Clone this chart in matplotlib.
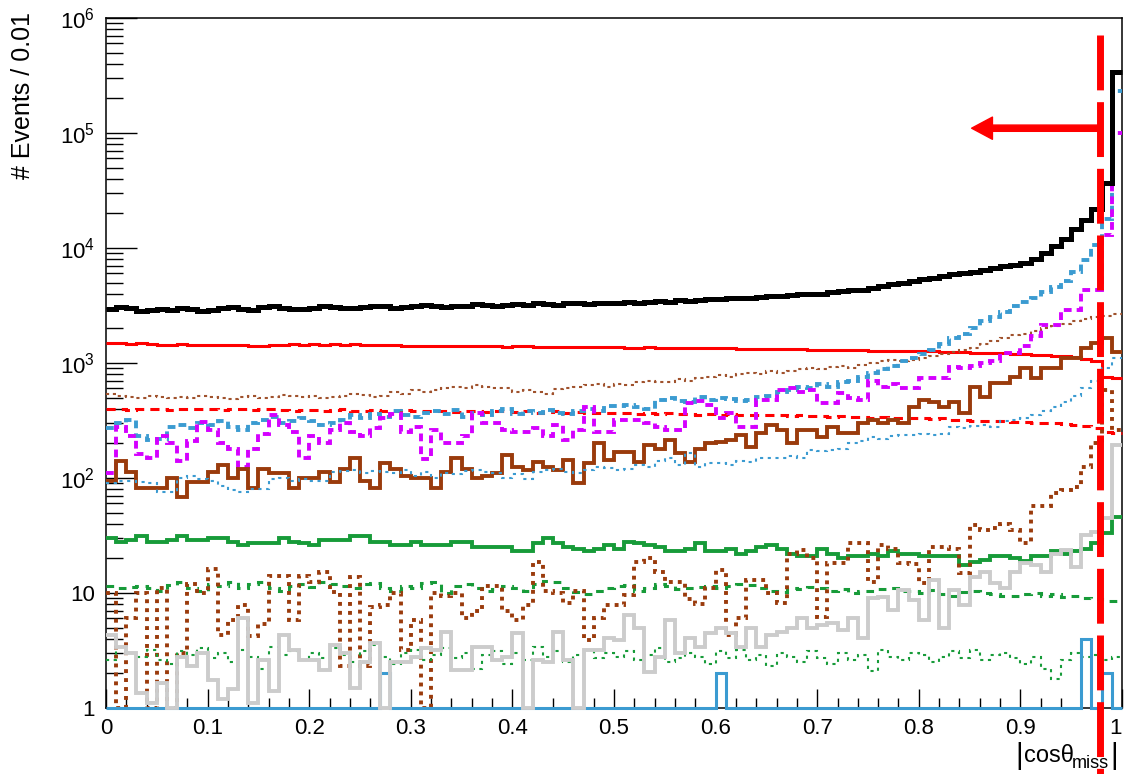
import numpy as np
import matplotlib.pyplot as plt
import matplotlib.transforms as mtransforms
from matplotlib.ticker import LogLocator, NullFormatter, MultipleLocator

plt.rcParams['font.family'] = ['Liberation Sans', 'DejaVu Sans']
plt.rcParams['mathtext.fontset'] = 'custom'
plt.rcParams['mathtext.rm'] = 'Liberation Sans'
plt.rcParams['mathtext.it'] = 'Liberation Sans:italic'

# 100 bins of width 0.01 in |cos theta_miss|
edges = np.linspace(0, 1, 101)
cut = 0.978

total = [2950, 3050, 3000, 2850, 2900, 2950, 2900, 3000, 2950, 2850,
         2900, 3000, 3050, 2950, 2900, 3050, 3100, 3000, 2950, 2950,
         3000, 3100, 3050, 3000, 3000, 3050, 3150, 3100, 3000, 3050,
         3150, 3200, 3100, 3050, 3100, 3150, 3250, 3200, 3150, 3200,
         3250, 3200, 3300, 3250, 3200, 3300, 3350, 3250, 3300, 3350,
         3350, 3400, 3350, 3400, 3450, 3400, 3500, 3450, 3550, 3600,
         3600, 3650, 3700, 3650, 3750, 3800, 3800, 3900, 3950, 3950,
         4000, 4100, 4200, 4300, 4350, 4500, 4700, 4900, 5000, 5200,
         5400, 5500, 5700, 5900, 6000, 6200, 6400, 6700, 6900, 7100,
         7400, 8000, 9000, 10500, 12000, 14500, 17500, 22000, 37000, 340000]

red_solid = [1480, 1480, 1470, 1480, 1470, 1420, 1420, 1450, 1420, 1420,
             1420, 1420, 1420, 1420, 1410, 1410, 1420, 1420, 1450, 1420,
             1450, 1420, 1450, 1420, 1450, 1420, 1420, 1420, 1420, 1410,
             1410, 1400, 1400, 1400, 1400, 1400, 1400, 1400, 1400, 1390,
             1400, 1400, 1390, 1390, 1380, 1380, 1370, 1370, 1370, 1370,
             1370, 1360, 1360, 1380, 1360, 1340, 1350, 1350, 1350, 1350,
             1340, 1340, 1320, 1320, 1330, 1330, 1320, 1310, 1310, 1300,
             1300, 1300, 1290, 1300, 1290, 1280, 1280, 1280, 1270, 1270,
             1260, 1260, 1250, 1250, 1240, 1230, 1230, 1220, 1210, 1200,
             1190, 1180, 1170, 1160, 1150, 1120, 1080, 1040, 760, 740]

brown_thin = [540, 520, 510, 500, 520, 510, 500, 510, 500, 520,
              510, 500, 490, 510, 520, 500, 510, 530, 520, 510,
              520, 500, 510, 520, 540, 530, 510, 520, 560, 540,
              580, 560, 580, 600, 620, 600, 640, 620, 600, 610,
              560, 580, 560, 540, 590, 600, 620, 640, 650, 620,
              660, 640, 680, 700, 680, 690, 720, 700, 740, 760,
              780, 760, 800, 820, 800, 850, 820, 860, 880, 900,
              880, 920, 940, 900, 960, 1000, 1050, 1060, 1050, 1060,
              1100, 1150, 1200, 1250, 1300, 1350, 1450, 1550, 1650, 1750,
              1800, 1900, 2000, 2100, 2200, 2300, 2400, 2500, 2550, 2650]

red_dashed = [400, 395, 390, 395, 400, 395, 390, 400, 395, 400,
              395, 390, 400, 395, 390, 395, 400, 390, 385, 390,
              390, 385, 390, 395, 385, 380, 390, 385, 380, 390,
              385, 380, 385, 380, 375, 380, 385, 375, 380, 380,
              375, 380, 370, 375, 380, 370, 375, 370, 365, 370,
              370, 365, 360, 365, 360, 365, 360, 360, 355, 360,
              355, 360, 355, 350, 355, 350, 350, 345, 350, 345,
              345, 340, 345, 340, 340, 335, 340, 335, 330, 335,
              330, 325, 330, 320, 320, 315, 315, 310, 310, 305,
              305, 300, 300, 300, 295, 290, 285, 270, 250, 245]

blue_dashed = [270, 300, 320, 230, 215, 220, 280, 290, 270, 300,
               290, 310, 280, 260, 300, 320, 340, 300, 310, 330,
               310, 290, 300, 320, 350, 330, 360, 340, 380, 350,
               340, 370, 380, 360, 390, 340, 370, 350, 380, 400,
               360, 380, 370, 390, 370, 360, 380, 400, 380, 420,
               420, 430, 410, 400, 480, 500, 470, 460, 510, 480,
               500, 490, 470, 480, 510, 520, 560, 580, 620, 600,
               650, 620, 680, 700, 760, 820, 880, 950, 1050, 1100,
               1200, 1300, 1450, 1650, 1800, 2000, 2300, 2500, 2800, 3100,
               3400, 3700, 4100, 4600, 5200, 6200, 7800, 10700, 18000, 230000]

magenta = [110, 280, 230, 160, 150, 230, 200, 140, 210, 305,
           260, 200, 180, 125, 180, 240, 350, 290, 250, 150,
           230, 200, 260, 300, 250, 230, 270, 330, 360, 250,
           280, 145, 260, 200, 200, 230, 370, 300, 300, 260,
           250, 250, 270, 230, 290, 215, 260, 410, 250, 250,
           320, 320, 320, 300, 280, 260, 260, 450, 470, 430,
           330, 370, 280, 280, 480, 480, 580, 600, 560, 580,
           450, 450, 550, 500, 480, 700, 620, 650, 600, 600,
           740, 740, 740, 920, 900, 950, 1000, 1050, 1230, 1230,
           1400, 1700, 2150, 2150, 2900, 2900, 4300, 4300, 13000, 100000]

brown_solid = [95, 140, 112, 82, 82, 82, 100, 68, 92, 92,
               112, 130, 100, 120, 82, 120, 110, 110, 82, 100,
               100, 112, 92, 120, 150, 95, 82, 135, 120, 105,
               100, 100, 82, 112, 150, 120, 100, 105, 110, 158,
               125, 118, 138, 125, 118, 143, 90, 135, 200, 143,
               168, 168, 138, 195, 180, 215, 165, 138, 180, 200,
               205, 215, 235, 185, 245, 290, 260, 200, 260, 260,
               225, 280, 245, 245, 300, 320, 300, 320, 300, 415,
               480, 460, 415, 460, 370, 620, 510, 670, 670, 760,
               900, 740, 900, 900, 1100, 1100, 1350, 1500, 1650, 1250]

blue_dotted = [90, 95, 95, 92, 90, 75, 75, 100, 105, 98,
               95, 85, 78, 75, 80, 80, 98, 100, 95, 98,
               95, 95, 112, 115, 118, 110, 115, 112, 110, 118,
               105, 112, 100, 110, 108, 115, 118, 112, 110, 100,
               108, 98, 112, 118, 120, 112, 110, 118, 125, 122,
               118, 120, 130, 125, 140, 150, 130, 165, 125, 135,
               135, 130, 140, 138, 150, 150, 148, 155, 150, 175,
               170, 175, 180, 200, 210, 225, 220, 230, 235, 235,
               240, 235, 240, 280, 270, 285, 290, 280, 310, 320,
               330, 350, 380, 410, 460, 520, 600, 700, 900, 1100]

green_solid = [30, 28, 29, 31, 28, 28, 29, 31, 29, 29,
               30, 30, 28, 26, 27, 27, 27, 30, 28, 27,
               26, 29, 29, 29, 31, 31, 28, 28, 26, 26,
               28, 26, 26, 26, 28, 28, 25, 25, 25, 25,
               23, 23, 27, 30, 27, 25, 24, 23, 24, 26,
               24, 28, 27, 26, 25, 23, 23, 24, 27, 23,
               23, 24, 22, 23, 25, 26, 24, 22, 21, 21,
               24, 22, 20, 21, 21, 22, 21, 23, 22, 22,
               21, 21, 21, 21, 17.5, 18.5, 19.5, 21, 21, 20,
               19, 21, 21, 23, 22, 23, 24, 27, 33, 46]

green_dashed = [11.5, 11, 11.2, 11.5, 11, 10.5, 11.8, 12.5, 11, 10.5,
                12, 11.5, 12.5, 11, 12, 12.5, 11, 10.5, 11.5, 12,
                11.2, 12.5, 12, 11.5, 11, 12, 12.2, 11, 10.5, 11.5,
                11, 12.2, 12.5, 10, 11.5, 12, 11, 10.5, 10.8, 11.5,
                11, 10.5, 12, 12.8, 12.5, 11, 10.2, 9.8, 10.5, 11,
                11.5, 11.8, 10.5, 11, 12, 11.5, 10.8, 11, 11.2, 11.5,
                11, 11.5, 12, 11.8, 11, 10.5, 10.2, 11, 10.8, 11.2,
                11, 10.5, 10.8, 10, 10.3, 10.5, 10.8, 11, 10.5, 10.5,
                10, 10.6, 9.8, 9.5, 10.2, 10.5, 10, 9.8, 9.5, 9.5,
                9.8, 10, 9.5, 9.8, 9.2, 9.5, 9, 8.8, 8.6, 8.5]

brown_dotted = [10, 0, 6, 10, 0, 11, 0, 3, 12, 10,
                16, 4.3, 5.8, 7.8, 4.2, 5.4, 14, 14, 5.8, 14,
                12.5, 15.2, 10.2, 2.3, 13.8, 2.3, 7.6, 7.8, 10, 3.2,
                5.8, 0, 10, 9.4, 10, 6, 7, 11.5, 11.5, 7,
                5.8, 7.8, 18.6, 10.5, 10, 8.2, 10.5, 3.9, 6, 7.8,
                7.8, 9.6, 18.6, 20, 15.2, 12.5, 12.5, 8.8, 8, 11,
                15.8, 4.3, 6, 13, 13, 10, 8.2, 22, 23.5, 20,
                6.2, 18.3, 18.3, 27, 27, 12.5, 26, 24, 18.2, 18,
                12.2, 25, 25, 24, 15, 39, 35, 37, 40, 35,
                27, 57, 57, 74, 78, 83, 125, 200, 580, 260]

green_dotted = [2.6, 3.4, 3.0, 2.8, 3.2, 2.6, 2.4, 3.1, 2.9, 3.3,
                2.7, 3.0, 2.5, 3.2, 2.8, 2.2, 3.4, 2.9, 3.1, 2.6,
                3.0, 2.7, 3.3, 2.9, 2.5, 3.1, 3.5, 2.8, 2.4, 3.0,
                3.2, 2.6, 2.9, 3.3, 2.7, 3.0, 2.2, 2.9, 3.1, 2.4,
                3.0, 2.6, 3.4, 2.8, 3.1, 2.5, 2.9, 3.2, 2.7, 3.0,
                2.8, 3.1, 2.6, 2.9, 3.3, 2.5, 2.7, 3.0, 2.8, 2.4,
                3.1, 2.7, 3.2, 2.6, 2.9, 2.3, 3.0, 2.8, 2.5, 3.1,
                2.7, 2.4, 3.0, 2.6, 2.9, 2.1, 3.2, 2.8, 2.6, 3.0,
                2.9, 2.5, 2.8, 3.1, 2.7, 3.2, 2.6, 2.9, 3.0, 2.7,
                2.4, 2.8, 2.2, 1.8, 2.6, 3.0, 2.8, 2.9, 2.6, 2.8]

blue_solid = [0] * 100
blue_solid[27] = 2
blue_solid[60] = 2
blue_solid[96] = 4
blue_solid[98] = 2

gray = [4.3, 3.4, 3.0, 1.35, 1.1, 1.65, 0, 2.8, 2.3, 3.0,
        1.75, 1.2, 1.45, 6.1, 1.1, 2.6, 1.4, 4.3, 3.2, 2.6,
        2.6, 2.15, 3.5, 3.0, 1.5, 2.5, 3.7, 0, 2.5, 2.5,
        2.8, 3.3, 3.2, 4.6, 2.15, 2.15, 3.4, 3.4, 2.6, 2.8,
        4.5, 0, 2.6, 2.5, 4.6, 2.6, 0, 3.2, 3.2, 4.1,
        3.9, 6.4, 5.0, 2.05, 2.8, 5.8, 3.0, 4.1, 3.4, 4.5,
        5.0, 4.5, 3.4, 5.0, 3.4, 4.3, 4.6, 5.0, 6.1, 5.0,
        5.3, 5.5, 4.8, 6.1, 4.1, 9.0, 9.3, 7.1, 10.6, 8.7,
        5.8, 13, 5.0, 10.6, 7.9, 13.8, 15.2, 12.2, 11, 15.2,
        18.2, 17.5, 15.2, 22, 23.6, 16.8, 32, 34, 45, 194]

xticks = [0, 0.1, 0.2, 0.3, 0.4, 0.5, 0.6, 0.7, 0.8, 0.9, 1]
xticklabels = ['0', '0.1', '0.2', '0.3', '0.4', '0.5', '0.6', '0.7', '0.8', '0.9', '1']
yticks = [1, 10, 1e2, 1e3, 1e4, 1e5, 1e6]
yticklabels = ['1', '10', '$10^{2}$', '$10^{3}$', '$10^{4}$', '$10^{5}$', '$10^{6}$']

fig = plt.figure(figsize=(11.24, 7.74), dpi=100)
ax = fig.add_axes([0.0943, 0.0853, 0.9039, 0.8915])


def hist(vals, color, lw, dashes=None):
    # empty bins sit on the lower edge of the log axis
    v = np.clip(np.asarray(vals, dtype=float), 1, None)
    ls = '-' if dashes is None else (0, dashes)
    ax.stairs(v, edges, baseline=None, color=color, linewidth=lw,
              linestyle=ls, clip_on=False, zorder=3)


hist(red_solid, '#ff0000', 2.2)
hist(brown_thin, '#a0522d', 1.5, (1.5, 1.8))
hist(red_dashed, '#ff0000', 2.2, (3.0, 2.0))
hist(blue_dashed, '#3b9bd1', 2.8, (2.0, 1.3))
hist(magenta, '#d400ff', 2.8, (2.0, 1.3))
hist(brown_solid, '#9a3b0c', 2.8)
hist(blue_dotted, '#3b9bd1', 1.5, (1.5, 2.2))
hist(green_solid, '#179b39', 2.8)
hist(green_dashed, '#179b39', 2.2, (2.5, 2.2))
hist(brown_dotted, '#9a3b0c', 2.8, (1.0, 1.3))
hist(green_dotted, '#179b39', 1.5, (1.5, 2.2))
hist(blue_solid, '#3b9bd1', 2.2)
hist(gray, '#cccccc', 2.8)
hist(total, '#000000', 3.6)

ax.set_xlim(0, 1)
ax.set_yscale('log')
ax.set_ylim(1, 1e6)

# cut value and selected side
trans = mtransforms.blended_transform_factory(ax.transData, ax.transAxes)
ax.plot([cut, cut], [0.975, -0.1], transform=trans, color='#ff0000', lw=5,
        dashes=(7.9, 1.7), clip_on=False, zorder=5)
ax.annotate('', xy=(0.852, 1.1e5), xytext=(cut, 1.1e5),
            arrowprops=dict(facecolor='#ff0000', edgecolor='#ff0000',
                            width=4.5, headwidth=16, headlength=15, shrink=0),
            zorder=5)

ax.set_xticks(xticks)
ax.set_xticklabels(xticklabels)
ax.get_xticklabels()[-1].set_horizontalalignment('right')
ax.xaxis.set_minor_locator(MultipleLocator(0.02))
ax.set_yticks(yticks)
ax.set_yticklabels(yticklabels)
ax.yaxis.set_minor_locator(LogLocator(base=10, subs=np.arange(2, 10)))
ax.yaxis.set_minor_formatter(NullFormatter())

ax.tick_params(axis='x', which='major', direction='in', length=14, width=1,
               labelsize=16, pad=7, top=False)
ax.tick_params(axis='x', which='minor', direction='in', length=7, width=1, top=False)
ax.tick_params(axis='y', which='major', direction='in', length=22, width=1,
               labelsize=16, pad=8, right=False)
ax.tick_params(axis='y', which='minor', direction='in', length=12, width=1, right=False)
for s in ax.spines.values():
    s.set_linewidth(1.1)

fig.text(23 / 1124, 1 - 12 / 774, '# Events / 0.01', rotation=90,
         ha='center', va='top', fontsize=18)

# x axis title, pieced together so the subscript sits like the ROOT one
W, H = 1124, 774
fig.text(1015 / W, 1 - 764 / H, '|', fontsize=21, va='baseline', ha='left')
fig.text(1024 / W, 1 - 762 / H, 'cosθ', fontsize=17, va='baseline', ha='left')
fig.text(1072 / W, 1 - 768 / H, 'miss', fontsize=13, va='baseline', ha='left')
fig.text(1110 / W, 1 - 764 / H, '|', fontsize=21, va='baseline', ha='left')

fig.savefig('out.png', dpi=100)
